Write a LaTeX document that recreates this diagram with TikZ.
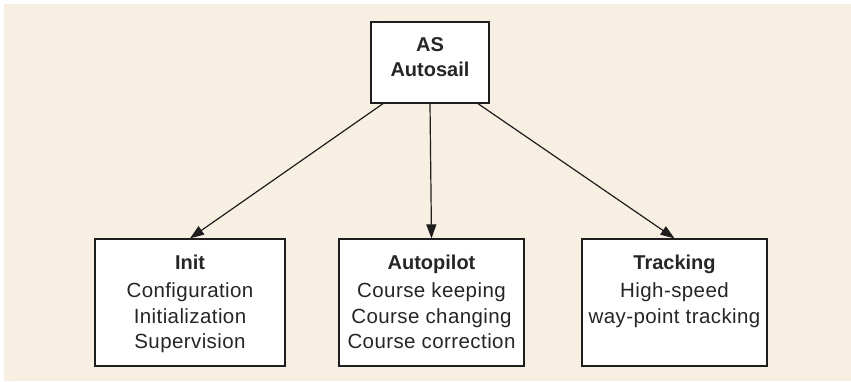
\documentclass[tikz,border=0pt]{standalone}
\usepackage{fontspec}
\setmainfont{Liberation Sans}
\newfontfamily\lightbody[LetterSpace=2]{Liberation Sans}
\usetikzlibrary{arrows.meta}
\definecolor{paper}{HTML}{F7EFE2}
\definecolor{ink}{HTML}{1E1E1E}
\definecolor{textgray}{HTML}{262626}
\tikzset{
  box/.style={draw=ink, line width=1.3pt, fill=white, inner sep=0pt},
  title/.style={anchor=north, inner sep=0pt, align=center, text=textgray,
    font=\fontsize{20}{25}\selectfont\bfseries},
  body/.style={anchor=north, inner sep=0pt, align=center, text=textgray,
    font=\lightbody\fontsize{20.5}{25.5}\selectfont},
  link/.style={draw=ink, line width=1.2pt, -{Triangle[length=14pt,width=10pt]}}
}
\begin{document}
\begin{tikzpicture}[x=1pt,y=1pt]
  \useasboundingbox (0,0) rectangle (851,382);
  \fill[paper] (4,1) rectangle (851,378);

  % root module
  \node[box, minimum width=118pt, minimum height=81pt] (as) at (430,319.5) {};
  \node[title] (astxt) at ([yshift=-16pt]as.north) {AS\\Autosail};

  % sub-modules
  \node[box, minimum width=190pt, minimum height=127pt] (init) at (190,79.5) {};
  \node[box, minimum width=185pt, minimum height=127pt] (auto) at (431.5,79.5) {};
  \node[box, minimum width=185pt, minimum height=127pt] (track) at (674.5,79.5) {};

  \node[title] (initT) at ([yshift=-16pt]init.north) {Init};
  \node[body] (initB) at ([yshift=-44.5pt]init.north) {Configuration\\Initialization\\Supervision};

  \node[title] (autoT) at ([yshift=-16pt]auto.north) {Autopilot};
  \node[body] (autoB) at ([yshift=-44.5pt]auto.north) {Course keeping\\Course changing\\Course correction};

  \node[title] (trackT) at ([yshift=-16pt]track.north) {Tracking};
  \node[body] (trackB) at ([yshift=-44.5pt]track.north) {High-speed\\way-point tracking};

  % connectors
  \draw[link] ([xshift=-47pt]as.south) -- (init.north);
  \draw[link] (as.south) -- (auto.north);
  \draw[link] ([xshift=48pt]as.south) -- (track.north);
\end{tikzpicture}
\end{document}
